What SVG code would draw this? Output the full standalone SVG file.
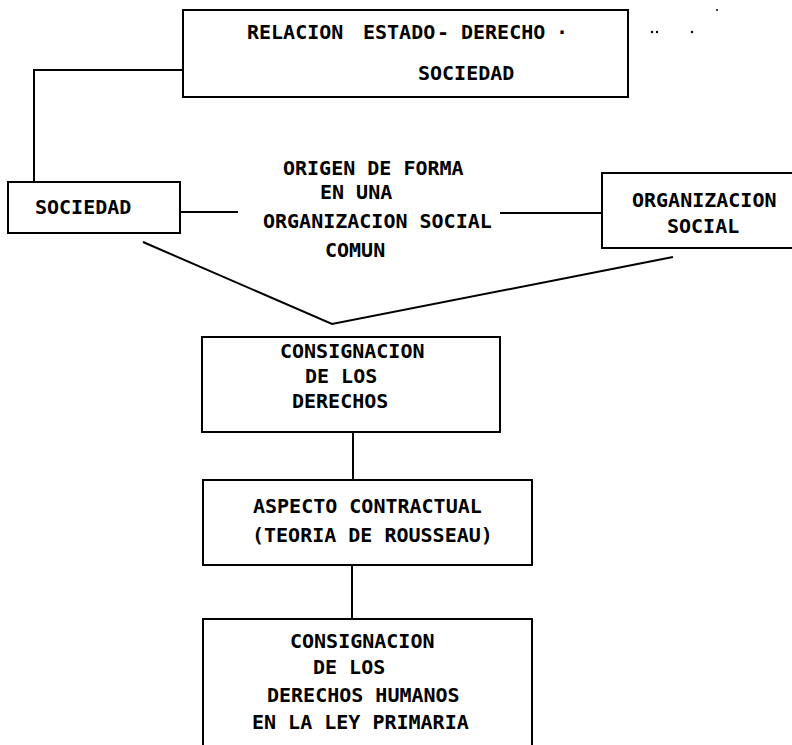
<svg xmlns="http://www.w3.org/2000/svg" width="792" height="745" viewBox="0 0 792 745">
<style>
.box{fill:none;stroke:#000;stroke-width:2}
.ln{fill:none;stroke:#000;stroke-width:2}
text{font-family:"DejaVu Sans Mono","Liberation Mono",monospace;font-size:20px;font-weight:bold;fill:#000}
</style>
<rect width="792" height="745" fill="#fff"/>
<g id="connectors">
<polyline class="ln" points="183,70 34,70 34,182"/>
<line class="ln" x1="180" y1="212" x2="238" y2="212"/>
<line class="ln" x1="500" y1="213" x2="603" y2="213"/>
<polyline class="ln" points="143,242 332,324 673,257"/>
<line class="ln" x1="353" y1="432" x2="353" y2="480"/>
<line class="ln" x1="352" y1="565" x2="352" y2="619"/>
</g>
<g id="n-relacion">
<rect class="box" x="183" y="10" width="445" height="87"/>
<text y="39"><tspan x="247">RELACION</tspan><tspan x="363">ESTADO</tspan><tspan x="437">-</tspan><tspan x="461">DERECHO</tspan><tspan x="556">·</tspan></text>
<text x="418" y="80">SOCIEDAD</text>
</g>
<g id="n-sociedad">
<rect class="box" x="8" y="182" width="172" height="51"/>
<text x="35" y="214">SOCIEDAD</text>
</g>
<g id="n-origen">
<text x="283" y="175">ORIGEN DE FORMA</text>
<text x="320" y="199">EN UNA</text>
<text x="263" y="228">ORGANIZACION SOCIAL</text>
<text x="325" y="257">COMUN</text>
</g>
<g id="n-organizacion">
<rect class="box" x="602" y="173" width="200" height="75"/>
<text x="632" y="207">ORGANIZACION</text>
<text x="667" y="233">SOCIAL</text>
</g>
<g id="n-consignacion">
<rect class="box" x="202" y="337" width="298" height="95"/>
<text x="280" y="358">CONSIGNACION</text>
<text x="305" y="383">DE LOS</text>
<text x="292" y="408">DERECHOS</text>
</g>
<g id="n-aspecto">
<rect class="box" x="203" y="480" width="329" height="85"/>
<text x="253" y="513">ASPECTO CONTRACTUAL</text>
<text x="252" y="542">(TEORIA DE ROUSSEAU)</text>
</g>
<g id="n-ley">
<path class="box" d="M203,760 V619 H532 V760"/>
<text x="290" y="648">CONSIGNACION</text>
<text x="313" y="674">DE LOS</text>
<text x="267" y="702">DERECHOS HUMANOS</text>
<text x="252" y="729">EN LA LEY PRIMARIA</text>
</g>
<g id="specks" fill="#000">
<circle cx="652" cy="32" r="1.2"/>
<circle cx="657" cy="32" r="1.2"/>
<circle cx="692" cy="32" r="1.2"/>
<circle cx="717" cy="10" r="1"/>
</g>
</svg>
